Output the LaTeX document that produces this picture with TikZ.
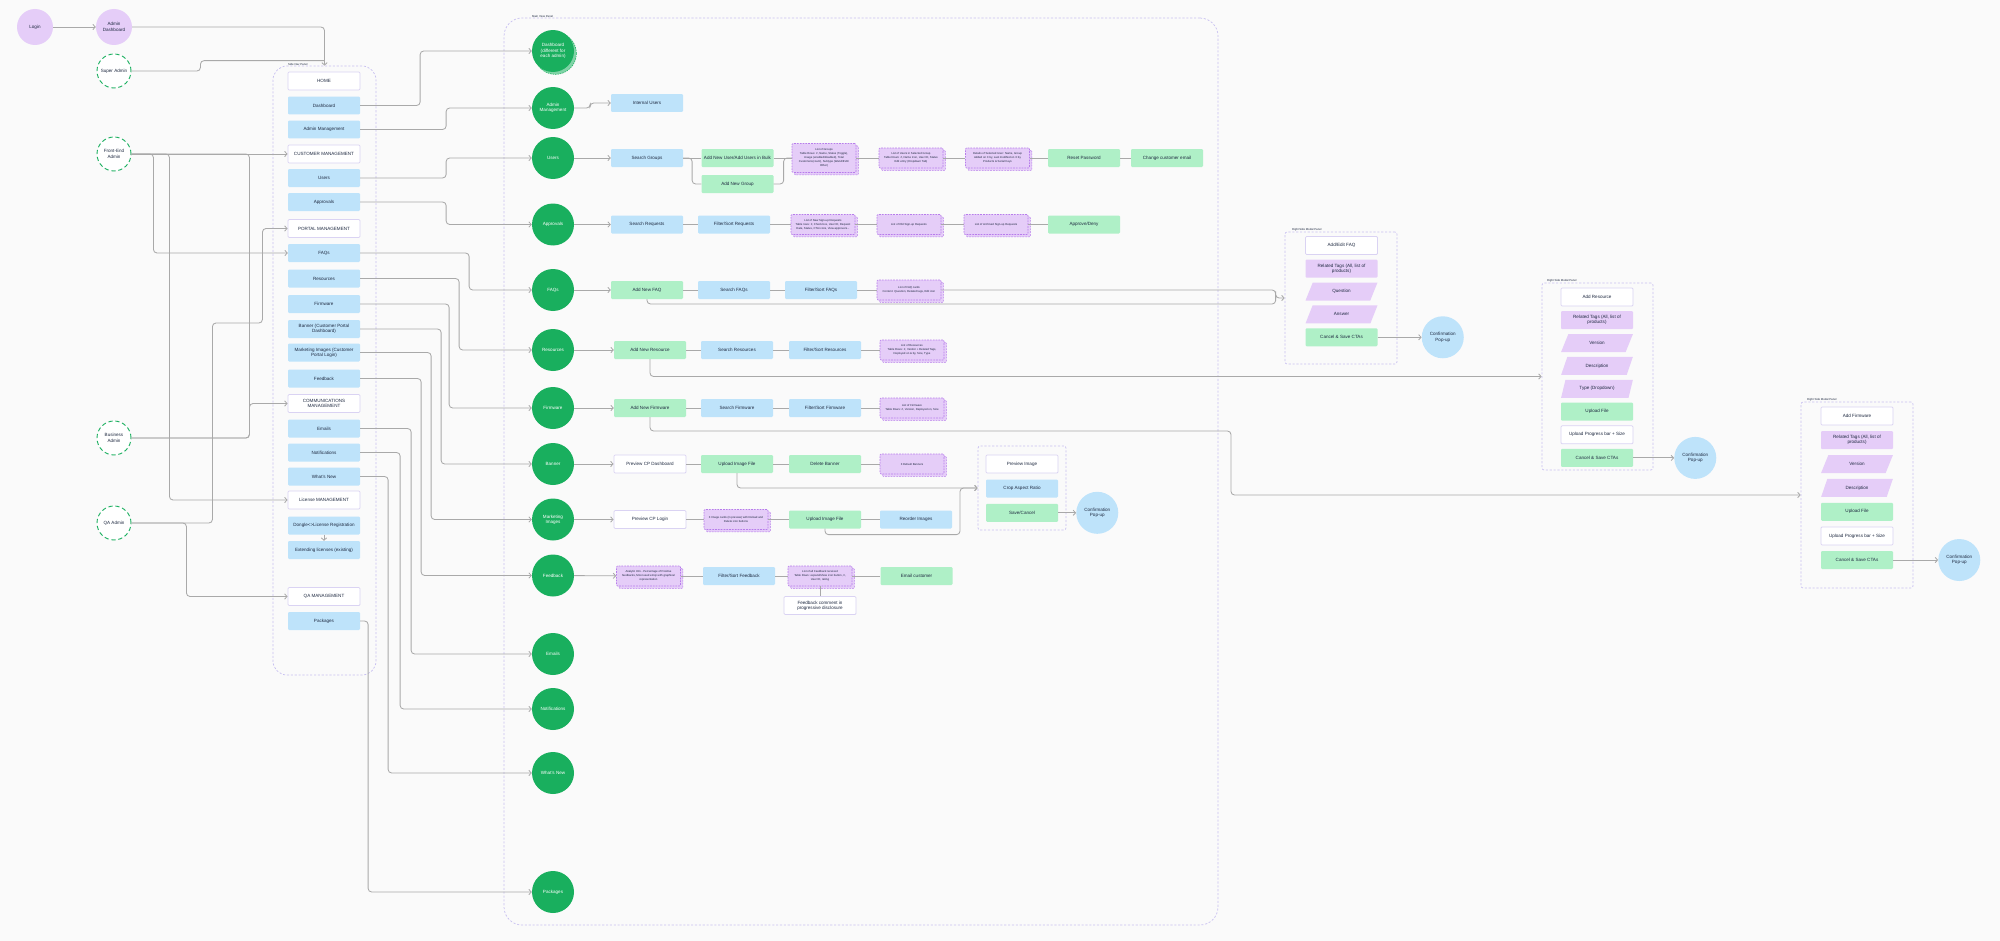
\documentclass[tikz,border=0pt]{standalone}
\usepackage{fontspec}
\setmainfont{Liberation Sans}
\usetikzlibrary{positioning,arrows.meta,shapes.geometric,shadows,calc}

\definecolor{paper}{HTML}{FAFAFA}
\definecolor{ink}{HTML}{1E2940}
\definecolor{wire}{HTML}{A9A9A9}
\definecolor{leaf}{HTML}{19AF5E}
\definecolor{lilac}{HTML}{E5CDF8}
\definecolor{lilacline}{HTML}{B77CEB}
\definecolor{sky}{HTML}{BEE3FA}
\definecolor{mint}{HTML}{AFF0C7}
\definecolor{wline}{HTML}{DAD3F3}
\definecolor{pline}{HTML}{C8C0F1}

\tikzset{
  txt/.style={font=\fontsize{6.5}{7.6}\selectfont, text=ink, align=center},
  base/.style={txt, rounded corners=1.5pt, minimum width=3.6cm, minimum height=0.9cm, inner sep=1pt},
  bbox/.style={base, fill=sky},
  gbox/.style={base, fill=mint},
  wbox/.style={base, fill=white, draw=wline, line width=1.1pt},
  tbox/.style={base, fill=lilac},
  lbox/.style={base, minimum width=3.2cm, minimum height=1cm, fill=lilac, draw=lilacline, line width=0.8pt,
    dash pattern=on 2.5pt off 1.5pt, font=\fontsize{4}{5.6}\selectfont,
    general shadow={shadow xshift=0.12cm, shadow yshift=-0.12cm, fill=lilac, draw=lilacline, line width=0.8pt, dash pattern=on 2.5pt off 1.5pt}},
  pbox/.style={txt, trapezium, trapezium left angle=66, trapezium right angle=114, trapezium stretches=true,
    minimum width=3.6cm, minimum height=0.9cm, inner sep=1pt, fill=lilac},
  ncirc/.style={txt, circle, fill=leaf, text=white, minimum size=2.1cm, inner sep=0pt},
  pcirc/.style={txt, circle, fill=lilac, minimum size=1.8cm, inner sep=0pt},
  rcirc/.style={txt, circle, fill=white, draw=leaf, line width=1.3pt, dash pattern=on 6pt off 4pt, minimum size=1.7cm, inner sep=0pt},
  ccirc/.style={txt, circle, fill=sky, minimum size=2.1cm, inner sep=0pt},
  panel/.style={draw=pline, line width=1pt, dash pattern=on 3pt off 2.5pt},
  plabel/.style={font=\fontsize{4}{4.5}\selectfont, text=ink, anchor=south west, inner sep=0.5pt},
  conn/.style={draw=wire, line width=1.2pt, rounded corners=5pt},
  arr/.style={conn, -{Straight Barb[length=3.5pt, width=7.5pt]}},
}

\begin{document}
\begin{tikzpicture}[x=0.05cm, y=-0.05cm]
  \useasboundingbox (0,0) rectangle (2000,941);
  \fill[paper] (0,0) rectangle (2000,941);

  % panels
  \node[panel, rounded corners=0.7cm, minimum width=5.15cm, minimum height=30.45cm] (navpanel) at (324.5,370.5) {};
  \node[plabel] (navlbl) at ([xshift=0.75cm]navpanel.north west) {Side Nav Panel};
  \node[panel, rounded corners=0.9cm, minimum width=35.7cm, minimum height=45.35cm] (mainpanel) at (861,471.5) {};
  \node[plabel] (mainlbl) at ([xshift=1.4cm]mainpanel.north west) {Main View Panel};
  \node[panel, rounded corners=3pt, minimum width=4.4cm, minimum height=4.2cm] (imgpanel) at (1022,488) {};
  \node[panel, rounded corners=3pt, minimum width=5.6cm, minimum height=6.6cm] (faqpanel) at (1341,298) {};
  \node[plabel] (faqlbl) at ([xshift=0.35cm]faqpanel.north west) {Right Side Modal Panel};
  \node[panel, rounded corners=3pt, minimum width=5.55cm, minimum height=9.35cm] (respanel) at (1597.5,376.5) {};
  \node[plabel] (reslbl) at ([xshift=0.25cm]respanel.north west) {Right Side Modal Panel};
  \node[panel, rounded corners=3pt, minimum width=5.6cm, minimum height=9.3cm] (fwpanel) at (1857,495) {};
  \node[plabel] (fwlbl) at ([xshift=0.3cm]fwpanel.north west) {Right Side Modal Panel};

  % roles
  \node[pcirc] (login) at (35,27) {Login};
  \node[pcirc] (admdash) at (114,27) {Admin\\Dashboard};
  \node[rcirc] (superadm) at (114,71) {Super Admin};
  \node[rcirc] (feadmin) at (114,154) {Front-End\\Admin};
  \node[rcirc] (busadmin) at (114,438) {Business\\Admin};
  \node[rcirc] (qaadmin) at (114,523) {QA Admin};

  % side nav
  \node[wbox] (nhome) at (324,81) {HOME};
  \node[bbox] (ndash) at (324,105.5) {Dashboard};
  \node[bbox] (nadmin) at (324,129.5) {Admin Management};
  \node[wbox] (ncust) at (324,154) {CUSTOMER MANAGEMENT};
  \node[bbox] (nusers) at (324,178) {Users};
  \node[bbox] (nappr) at (324,202) {Approvals};
  \node[wbox] (nportal) at (324,228.5) {PORTAL MANAGEMENT};
  \node[bbox] (nfaqs) at (324,253) {FAQs};
  \node[bbox] (nres) at (324,278.5) {Resources};
  \node[bbox] (nfirm) at (324,304) {Firmware};
  \node[bbox] (nbanner) at (324,329) {Banner (Customer Portal\\Dashboard)};
  \node[bbox] (nmkt) at (324,352.5) {Marketing Images (Customer\\Portal Login)};
  \node[bbox] (nfeed) at (324,378.5) {Feedback};
  \node[wbox] (ncomm) at (324,403.5) {COMMUNICATIONS\\MANAGEMENT};
  \node[bbox] (nemails) at (324,428.5) {Emails};
  \node[bbox] (nnotif) at (324,452.5) {Notifications};
  \node[bbox] (nnew) at (324,476.5) {What's New};
  \node[wbox] (nlicense) at (324,500) {License MANAGEMENT};
  \node[bbox] (ndongle) at (324,525.5) {Dongle<>License Registration};
  \node[bbox] (nextend) at (324,550) {Extending licenses (existing)};
  \node[wbox] (nqa) at (324,596.5) {QA MANAGEMENT};
  \node[bbox] (npack) at (324,621) {Packages};

  % main view circles
  \node[ncirc, general shadow={shadow xshift=0.12cm, shadow yshift=-0.12cm, fill=leaf!55, draw=leaf, line width=0.8pt, dash pattern=on 2pt off 1.5pt}] (cdash) at (553,51) {Dashboard\\(different for\\each admin)};
  \node[ncirc] (cadmin) at (553,108) {Admin\\Management};
  \node[ncirc] (cusers) at (553,158) {Users};
  \node[ncirc] (cappr) at (553,224.5) {Approvals};
  \node[ncirc] (cfaqs) at (553,290) {FAQs};
  \node[ncirc] (cres) at (553,350) {Resources};
  \node[ncirc] (cfirm) at (553,408) {Firmware};
  \node[ncirc] (cbanner) at (553,464) {Banner};
  \node[ncirc] (cmkt) at (553,519.5) {Marketing\\Images};
  \node[ncirc] (cfeed) at (553,575.5) {Feedback};
  \node[ncirc] (cemails) at (553,654) {Emails};
  \node[ncirc] (cnotif) at (553,709) {Notifications};
  \node[ncirc] (cnew) at (553,773) {What's New};
  \node[ncirc] (cpack) at (553,892) {Packages};

  % rows
  \node[bbox] (internal) at (647,103) {Internal Users};

  \node[bbox] (searchgroups) at (647,158) {Search Groups};
  \node[gbox] (addusers) at (737.5,158) {Add New User/Add Users in Bulk};
  \node[gbox] (addgroup) at (737.5,184) {Add New Group};
  \node[lbox, minimum height=1.45cm] (grouplist) at (824,158) {List of Groups\\Table Rows: \#, Name, Status (Toggle),\\Usage (enabled/disabled), Total\\Customers(count), Subtype (Wand/EVA/\\Other)};
  \node[lbox] (userlist) at (911,158) {List of Users in Selected Group\\Table Rows: \#, Name Icon, User ID, Status\\Edit entry (Dropdown Tab)};
  \node[lbox] (userinfo) at (997.5,158) {Details of Selected User: Name, Group\\Added on X by, Last modified on X by\\Products \& Serial Keys};
  \node[gbox] (resetpw) at (1084,158) {Reset Password};
  \node[gbox] (chemail) at (1167,158) {Change customer email};

  \node[bbox] (searchreq) at (647,224.5) {Search Requests};
  \node[bbox] (filterreq) at (734,224.5) {Filter/Sort Requests};
  \node[lbox] (newreq) at (823,224.5) {List of New Sign-up Requests\\Table rows: \#, Check box, User ID, Request\\Date, Status, CTA icons, View approvers...};
  \node[lbox] (oldreq) at (909,224.5) {List of Old Sign-up Requests};
  \node[lbox] (archreq) at (996,224.5) {List of Archived Sign-up Requests};
  \node[gbox] (approve) at (1084,224.5) {Approve/Deny};

  \node[gbox] (addfaq) at (647,290) {Add New FAQ};
  \node[bbox] (searchfaq) at (734,290) {Search FAQs};
  \node[bbox] (filterfaq) at (821,290) {Filter/Sort FAQs};
  \node[lbox] (faqlist) at (909,290) {List of FAQ cards\\Content: Question, Related tags, Edit icon};

  \node[gbox] (addres) at (650,350) {Add New Resource};
  \node[bbox] (searchres) at (737,350) {Search Resources};
  \node[bbox] (filterres) at (825,350) {Filter/Sort Resources};
  \node[lbox] (reslist) at (912,350) {List of Resources\\Table Rows: \#, Vendor + Related Tags,\\Deployed on \& by, Size, Type};

  \node[gbox] (addfw) at (650,408) {Add New Firmware};
  \node[bbox] (searchfw) at (737,408) {Search Firmware};
  \node[bbox] (filterfw) at (825,408) {Filter/Sort Firmware};
  \node[lbox] (fwlist) at (912,408) {List of Firmware\\Table Rows: \#, Version, Deployed on, Size};

  \node[wbox] (prevdash) at (650,464) {Preview CP Dashboard};
  \node[gbox] (upbanner) at (737,464) {Upload Image File};
  \node[gbox] (delbanner) at (825,464) {Delete Banner};
  \node[lbox] (defbanners) at (912,464) {3 Default Banners};

  \node[wbox] (prevlogin) at (650,519.5) {Preview CP Login};
  \node[lbox] (imgcards) at (736,519.5) {3 Image cards (in preview) with Reload and\\Delete icon buttons};
  \node[gbox] (upmkt) at (825,519.5) {Upload Image File};
  \node[bbox] (reorder) at (916,519.5) {Reorder Images};

  \node[lbox] (fbstats) at (648.5,576) {Analytic Info - Percentage of Positive\\feedbacks, Most used emoji with graphical\\representation};
  \node[bbox] (filterfb) at (739,576) {Filter/Sort Feedback};
  \node[lbox] (fblist) at (820,576) {List of all Feedback received\\Table Rows: expand/show icon button, \#,\\User ID, rating};
  \node[gbox] (emailcust) at (916.5,576) {Email customer};
  \node[wbox] (fbcomment) at (820,605.5) {Feedback comment in\\progressive disclosure};

  % image modal
  \node[wbox] (previmg) at (1022,464) {Preview Image};
  \node[bbox, below=0.3cm of previmg] (cropratio) {Crop Aspect Ratio};
  \node[gbox, below=0.3cm of cropratio] (savecancel) {Save/Cancel};
  \node[ccirc, right=0.9cm of savecancel] (conf1) {Confirmation\\Pop-up};

  % faq modal
  \node[wbox] (faqhead) at (1341.5,245.5) {Add/Edit FAQ};
  \node[tbox, below=0.23cm of faqhead] (faqtags) {Related Tags (All, list of\\products)};
  \node[pbox, below=0.23cm of faqtags] (faqq) {Question};
  \node[pbox, below=0.23cm of faqq] (faqa) {Answer};
  \node[gbox, below=0.23cm of faqa] (faqcta) {Cancel \& Save CTAs};
  \node[ccirc, right=2.2cm of faqcta] (conf2) {Confirmation\\Pop-up};

  % resource modal
  \node[wbox] (reshead) at (1597,297) {Add Resource};
  \node[tbox, below=0.23cm of reshead] (restags) {Related Tags (All, list of\\products)};
  \node[pbox, below=0.23cm of restags] (resver) {Version};
  \node[pbox, below=0.23cm of resver] (resdesc) {Description};
  \node[pbox, below=0.23cm of resdesc] (restype) {Type (Dropdown)};
  \node[gbox, below=0.23cm of restype] (resup) {Upload File};
  \node[wbox, below=0.23cm of resup] (resprog) {Upload Progress bar + Size};
  \node[gbox, below=0.23cm of resprog] (rescta) {Cancel \& Save CTAs};
  \node[ccirc, right=2.05cm of rescta] (conf3) {Confirmation\\Pop-up};

  % firmware modal
  \node[wbox] (fwhead) at (1857,416) {Add Firmware};
  \node[tbox, below=0.28cm of fwhead] (fwtags) {Related Tags (All, list of\\products)};
  \node[pbox, below=0.28cm of fwtags] (fwver) {Version};
  \node[pbox, below=0.28cm of fwver] (fwdesc) {Description};
  \node[gbox, below=0.28cm of fwdesc] (fwup) {Upload File};
  \node[wbox, below=0.28cm of fwup] (fwprog) {Upload Progress bar + Size};
  \node[gbox, below=0.28cm of fwprog] (fwcta) {Cancel \& Save CTAs};
  \node[ccirc, right=2.25cm of fwcta] (conf4) {Confirmation\\Pop-up};

  % roles -> side nav
  \draw[arr] (login) -- (admdash);
  \draw[arr] (admdash) -| (navpanel.north);
  \draw[conn] (superadm.east) -- ++(69,0) |- ([yshift=0.25cm]navpanel.north);
  \draw[arr] (feadmin) -- (ncust);
  \draw[arr] (feadmin.east) -- ++(22,0) |- (nfaqs.west);
  \draw[arr] (feadmin.east) -- ++(38,0) |- (nlicense.west);
  \draw[conn] (feadmin.east) -- ++(118,0) |- (busadmin.east);
  \draw[arr] (busadmin.east) -- ++(118,0) |- (ncomm.west);
  \draw[arr] (qaadmin.east) -- ++(55,0) |- (nqa.west);
  \draw[arr] (qaadmin.east) -- ++(81,0) -- ++(0,-200) -- ++(50,0) |- (nportal.west);
  \draw[arr] (ndongle) -- (nextend);

  % side nav -> main view
  \draw[arr] (ndash.east) -- ++(60,0) |- (cdash.west);
  \draw[arr] (nadmin.east) -- ++(86,0) |- (cadmin.west);
  \draw[arr] (nusers.east) -- ++(86,0) |- (cusers.west);
  \draw[arr] (nappr.east) -- ++(86,0) |- (cappr.west);
  \draw[arr] (nfaqs.east) -- ++(109,0) |- (cfaqs.west);
  \draw[arr] (nres.east) -- ++(99,0) |- (cres.west);
  \draw[arr] (nfirm.east) -- ++(89,0) |- (cfirm.west);
  \draw[arr] (nbanner.east) -- ++(81,0) |- (cbanner.west);
  \draw[arr] (nmkt.east) -- ++(71,0) |- (cmkt.west);
  \draw[arr] (nfeed.east) -- ++(61,0) |- (cfeed.west);
  \draw[arr] (nemails.east) -- ++(51,0) |- (cemails.west);
  \draw[arr] (nnotif.east) -- ++(40,0) |- (cnotif.west);
  \draw[arr] (nnew.east) -- ++(28,0) |- (cnew.west);
  \draw[arr] (npack.east) -- ++(8,0) |- (cpack.west);

  % rows
  \draw[arr] (cadmin.east) -- ++(16,0) |- (internal.west);

  \draw[arr] (cusers) -- (searchgroups);
  \draw[conn] (searchgroups) -- (addusers);
  \draw[conn] (searchgroups.east) -- ++(9,0) |- (addgroup.west);
  \draw[conn] (addusers) -- (grouplist);
  \draw[conn] (addgroup.east) -- ++(10,0) |- (grouplist.west);
  \draw[conn] (grouplist) -- (userlist);
  \draw[conn] (userlist) -- (userinfo);
  \draw[conn] (userinfo) -- (resetpw);
  \draw[conn] (resetpw) -- (chemail);

  \draw[arr] (cappr) -- (searchreq);
  \draw[conn] (searchreq) -- (filterreq);
  \draw[conn] (filterreq) -- (newreq);
  \draw[conn] (newreq) -- (oldreq);
  \draw[conn] (oldreq) -- (archreq);
  \draw[conn] (archreq) -- (approve);

  \draw[arr] (cfaqs) -- (addfaq);
  \draw[conn] (addfaq) -- (searchfaq);
  \draw[conn] (searchfaq) -- (filterfaq);
  \draw[conn] (filterfaq) -- (faqlist);
  \coordinate (faqjoin) at ([xshift=-0.45cm]faqpanel.west);
  \draw[arr] (faqlist.east) -| ([yshift=0.15cm]faqjoin) |- (faqpanel.west);
  \draw[conn] (addfaq.south) |- ([yshift=-0.3cm]faqjoin) -- (faqjoin);

  \draw[arr] (cres) -- (addres);
  \draw[conn] (addres) -- (searchres);
  \draw[conn] (searchres) -- (filterres);
  \draw[conn] (filterres) -- (reslist);
  \draw[arr] (addres.south) |- (respanel.west);

  \draw[arr] (cfirm) -- (addfw);
  \draw[conn] (addfw) -- (searchfw);
  \draw[conn] (searchfw) -- (filterfw);
  \draw[conn] (filterfw) -- (fwlist);
  \coordinate (fwbend) at (1231,431);
  \draw[arr] (addfw.south) |- (fwbend) |- (fwpanel.west);

  \draw[arr] (cbanner) -- (prevdash);
  \draw[conn] (prevdash) -- (upbanner);
  \draw[conn] (upbanner) -- (delbanner);
  \draw[conn] (delbanner) -- (defbanners);
  \draw[arr] (upbanner.south) |- (imgpanel.west);

  \draw[arr] (cmkt) -- (prevlogin);
  \draw[conn] (prevlogin) -- (imgcards);
  \draw[conn] (imgcards) -- (upmkt);
  \draw[conn] (upmkt) -- (reorder);
  \draw[arr] (upmkt.south) |- ++(135,6) |- (imgpanel.west);

  \draw[arr] (cfeed) -- (fbstats);
  \draw[conn] (fbstats) -- (filterfb);
  \draw[conn] (filterfb) -- (fblist);
  \draw[conn] (fblist) -- (emailcust);
  \draw[conn] (fblist) -- (fbcomment);

  % modals -> confirmation
  \draw[arr] (savecancel) -- (conf1);
  \draw[arr] (faqcta) -- (conf2);
  \draw[arr] (rescta) -- (conf3);
  \draw[arr] (fwcta) -- (conf4);
\end{tikzpicture}
\end{document}
